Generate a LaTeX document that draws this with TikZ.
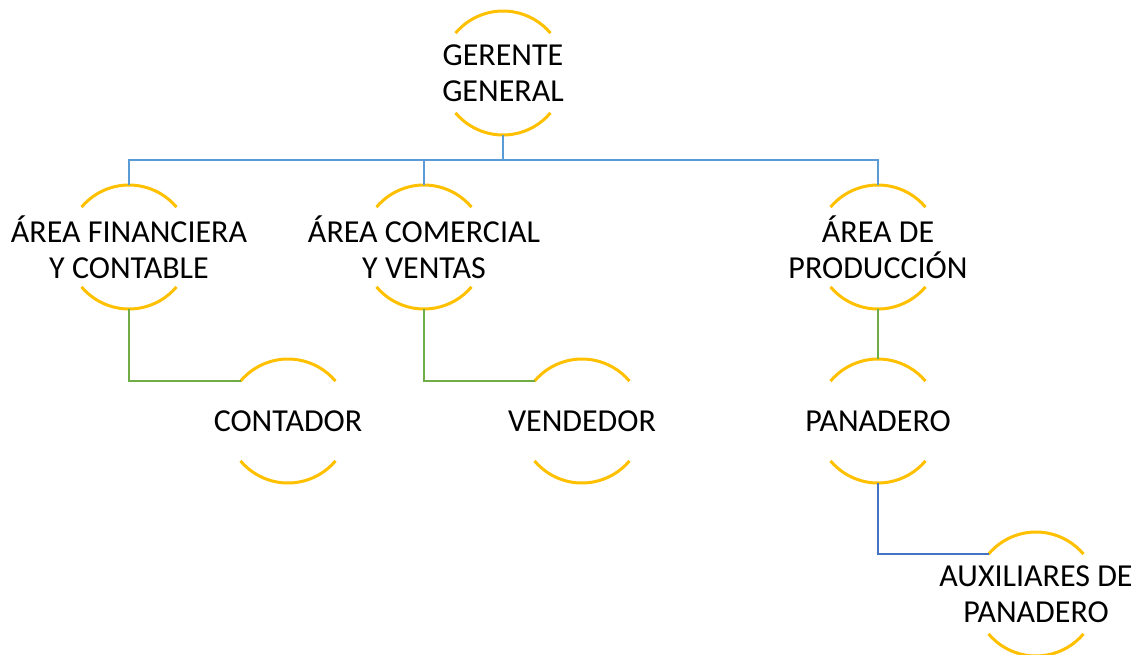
\documentclass[tikz,border=0pt]{standalone}
\usepackage{fontspec}
\setmainfont{Carlito}
\definecolor{ringc}{HTML}{FFC000}
\definecolor{busc}{HTML}{5B9BD5}
\definecolor{grnc}{HTML}{70AD47}
\definecolor{bluc}{HTML}{4472C4}
\begin{document}
\begin{tikzpicture}[x=1pt,y=1pt,
  ring/.style={circle, minimum size=124pt, inner sep=0pt, outer sep=0pt, draw=none},
  lbl/.style={align=center, inner sep=0pt, font=\fontsize{32}{36}\selectfont},
  arcline/.style={draw=ringc, line width=3pt},
  busline/.style={draw=busc, line width=2.6pt},
  grnline/.style={draw=grnc, line width=2.6pt},
  bluline/.style={draw=bluc, line width=2.6pt}]
\useasboundingbox (0,0) rectangle (1138,-654);
% circles
\node[ring] (gg)  at (503,-73)  {};
\node[ring] (fin) at (129,-247) {};
\node[ring] (com) at (424,-247) {};
\node[ring] (pro) at (878,-247) {};
\node[ring] (con) at (288,-421) {};
\node[ring] (ven) at (582,-421) {};
\node[ring] (pan) at (878,-421) {};
\node[ring] (aux) at (1036,-594) {};
\foreach \n in {gg,fin,com,pro,con,ven,pan,aux}{
  \draw[arcline] (\n.140) arc[start angle=140, end angle=40, radius=62pt];
  \draw[arcline] (\n.220) arc[start angle=220, end angle=320, radius=62pt];
}
% labels
\node[lbl] (ggt)  at (gg)  {GERENTE\\GENERAL};
\node[lbl] (fint) at (fin) {ÁREA FINANCIERA\\Y CONTABLE};
\node[lbl] (comt) at (com) {ÁREA COMERCIAL\\Y VENTAS};
\node[lbl] (prot) at (pro) {ÁREA DE\\PRODUCCIÓN};
\node[lbl] (cont) at (con) {CONTADOR};
\node[lbl] (vent) at (ven) {VENDEDOR};
\node[lbl] (pant) at (pan) {PANADERO};
\node[lbl] (auxt) at (aux) {AUXILIARES DE\\PANADERO};
% connectors
\coordinate (bus) at (503,-160);
\draw[busline] (gg.south) -- (bus);
\draw[busline] (bus) -| (fin.north);
\draw[busline] (bus) -| (com.north);
\draw[busline] (bus) -| (pro.north);
\draw[grnline] (fin.south) |- (con.140);
\draw[grnline] (com.south) |- (ven.140);
\draw[grnline] (pro.south) -- (pan.north);
\draw[bluline] (pan.south) |- (aux.140);
\end{tikzpicture}
\end{document}
